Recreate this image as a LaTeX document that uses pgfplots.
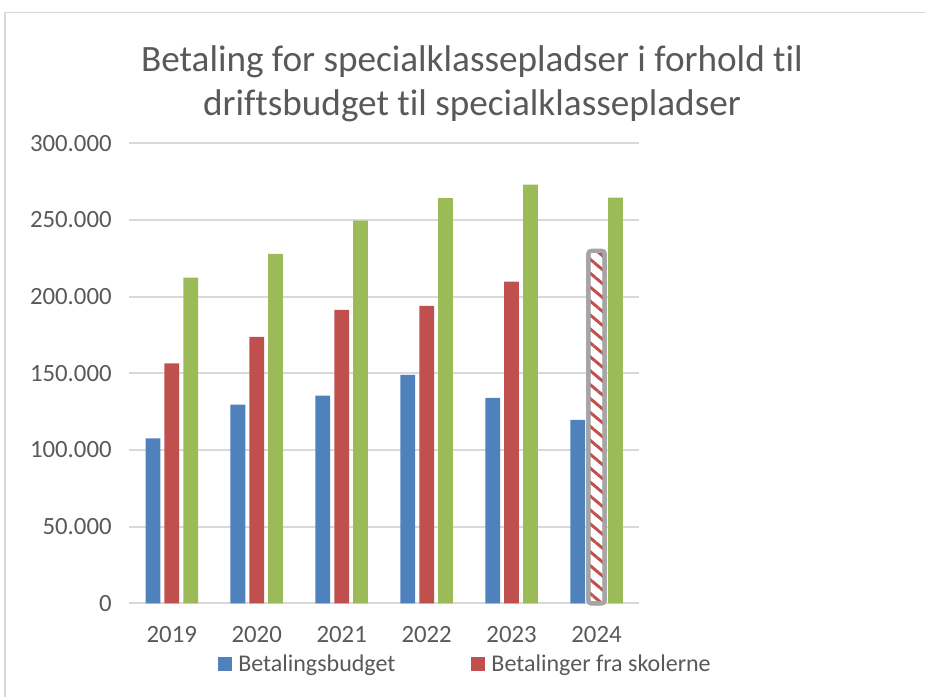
\documentclass[border=0pt]{standalone}
\usepackage{fontspec}
\setmainfont{Carlito}[Ligatures=NoCommon]
\usepackage{pgfplots}
\pgfplotsset{compat=1.18}
\usetikzlibrary{patterns.meta}
\definecolor{cblue}{HTML}{4F81BD}
\definecolor{cred}{HTML}{C0504D}
\definecolor{cgreen}{HTML}{9BBB59}
\definecolor{gridgray}{HTML}{D9D9D9}
\definecolor{hgray}{HTML}{A5A5A5}
\definecolor{txt}{HTML}{595959}
\begin{document}
\begin{tikzpicture}
\begin{scope}[x=0.75pt,y=0.75pt]
\useasboundingbox (0,0) rectangle (925,697);
\draw[color=gridgray, line width=1.1pt] (5,0) -- (5,684.3) -- (925,684.3);
\node[anchor=base, font=\fontsize{27.9}{33}\selectfont, text=txt, inner sep=0pt] at (472,625) {Betaling for specialklassepladser i forhold til};
\node[anchor=base, font=\fontsize{27.9}{33}\selectfont, text=txt, inner sep=0pt] at (472,581) {driftsbudget til specialklassepladser};
\end{scope}
\begin{axis}[
  at={(96.98pt,70.28pt)}, anchor=south west,
  width=382.3pt, height=345pt, scale only axis,
  ybar, bar width=0.174,
  xmin=-0.5, xmax=5.5, ymin=0, ymax=300000,
  xtick={0,1,2,3,4,5}, xticklabels={2019,2020,2021,2022,2023,2024},
  ytick={0,50000,100000,150000,200000,250000,300000},
  yticklabels={0,50.000,100.000,150.000,200.000,250.000,300.000},
  scaled y ticks=false,
  major tick length=0pt,
  axis line style={draw=none},
  ymajorgrids, grid style={color=gridgray, line width=1.5pt},
  tick label style={font=\fontsize{18.6}{22}\selectfont, text=txt},
  yticklabel style={anchor=east, inner sep=0pt, xshift=-13pt},
  xticklabel style={anchor=base, inner sep=0pt, yshift=-29.3pt},
  clip=false,
  legend columns=2,
  legend cell align=left,
  legend image code/.code={\fill[#1] (0pt,-5.25pt) rectangle (10.5pt,5.25pt);},
  legend style={draw=none, fill=none, inner sep=0pt, at={(0.174,-0.132)}, anchor=west,
    font=\fontsize{18}{22}\selectfont, text=txt, nodes={inner sep=0pt},
    /tikz/every odd column/.append style={column sep=4.5pt},
    /tikz/every even column/.append style={column sep=57pt}},
]
\addplot[fill=cblue, draw=none, bar shift=-0.222] coordinates {(0,107500) (1,129600) (2,135500) (3,149000) (4,134000) (5,119600)};
\addlegendentry{Betalingsbudget}
\addplot[fill=cred, draw=none, bar shift=0] coordinates {(0,156500) (1,173700) (2,191300) (3,193900) (4,209800)};
\addlegendentry{Betalinger fra skolerne}
\addplot[fill=cgreen, draw=none, bar shift=0.222, forget plot] coordinates {(0,212400) (1,227800) (2,249600) (3,264200) (4,273100) (5,264600)};
\addplot[draw=hgray, line width=3pt, rounded corners=2pt, bar width=0.19, bar shift=0, forget plot,
  preaction={fill=white},
  preaction={pattern={Lines[angle=-40,distance=8pt,line width=2.2pt]}, pattern color=cred}] coordinates {(5,229800)};
\end{axis}
\end{tikzpicture}
\end{document}
